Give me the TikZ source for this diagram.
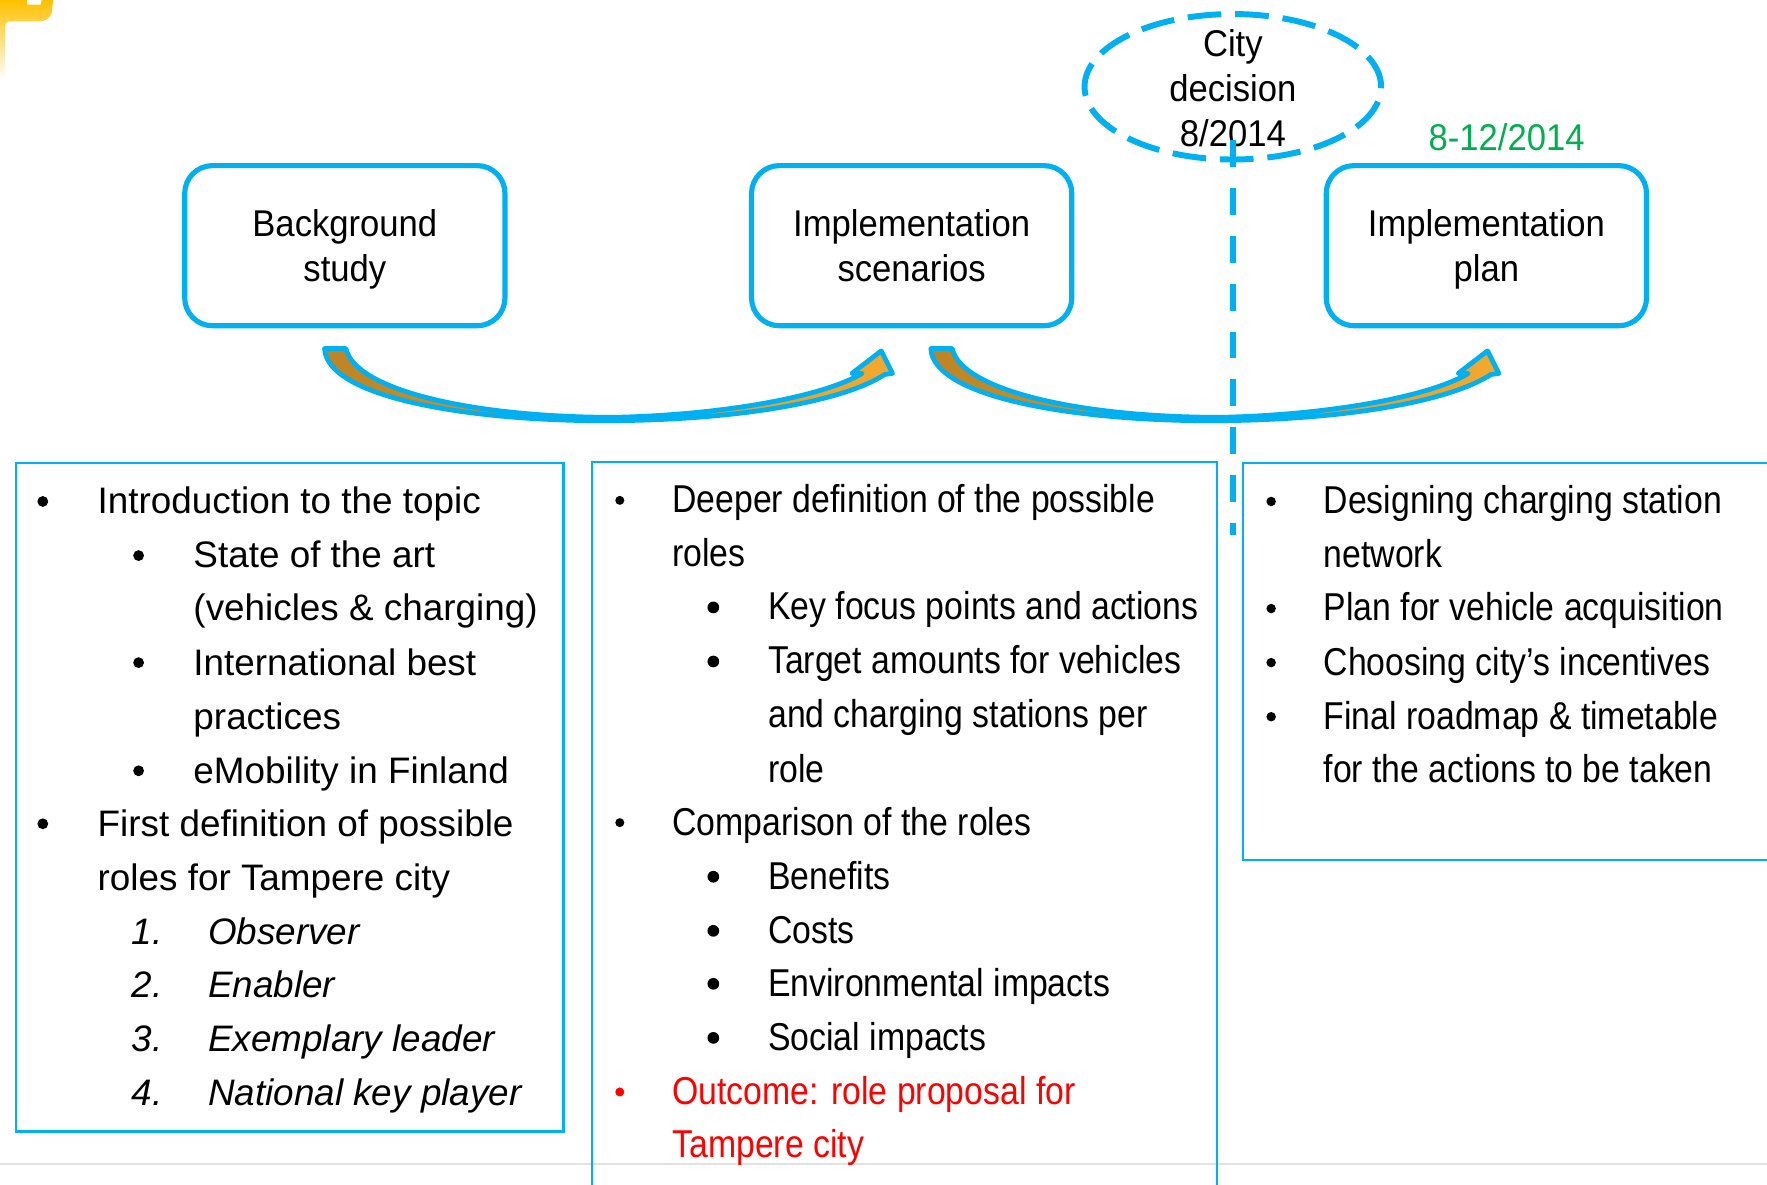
\documentclass[tikz,border=0pt]{standalone}
\usepackage{fontspec}
\setmainfont{Liberation Sans}
\newfontfamily\condfont{Liberation Sans}[FakeStretch=0.87]
\newfontfamily\labfont{Liberation Sans}[FakeStretch=0.93]
\usetikzlibrary{shapes.geometric,calc}
\definecolor{cblue}{HTML}{00B0F0}
\definecolor{cgreen}{HTML}{00B050}
\definecolor{cred}{HTML}{FF0000}
\definecolor{golddark}{HTML}{BE8424}
\definecolor{goldlight}{HTML}{F2A92E}
\definecolor{logoyellow}{HTML}{FFC000}
\definecolor{rulegray}{HTML}{E2E2E2}

\tikzset{
  pics/bendarrow/.style={code={
    \path[draw=cblue, line width=1.2pt, line join=round,
          left color=golddark, right color=goldlight]
      (0,0) .. controls (2,44) and (132,65) .. (257,64)
      .. controls (372,63) and (462,46) .. (497,23)
      -- (504,22) -- (494,2) -- (468,22) -- (477,22)
      .. controls (442,43) and (352,59) .. (257,61)
      .. controls (132,61) and (27,37) .. (19,0) -- cycle;
  }}
}

% first-line strut that lowers a two-line label slightly in its box
\newcommand{\toprule}{\rule{0pt}{10pt}}

\begin{document}
\begin{tikzpicture}[x=0.01cm, y=-0.01cm,
  phasebox/.style={draw=cblue, line width=1.3pt, rounded corners=7pt,
    minimum width=2.84cm, minimum height=1.42cm, align=center, inner sep=0pt,
    font=\labfont\fontsize{9.4pt}{11.4pt}\selectfont},
  decisionshape/.style={ellipse, draw=cblue, line width=1.5pt,
    dash pattern=on 8.5pt off 3.5pt, minimum width=2.63cm,
    minimum height=1.29cm, inner sep=0pt},
  labeltext/.style={align=center, inner sep=0pt,
    font=\labfont\fontsize{9.4pt}{11.4pt}\selectfont},
  dividerline/.style={draw=cblue, line width=1.5pt, dash pattern=on 6.8pt off 5.3pt},
  panel/.style={draw=cblue, line width=0.55pt},
  ltext/.style={anchor=base west, inner sep=0pt,
    font=\fontsize{9.3pt}{13.6pt}\selectfont},
  lnum/.style={anchor=base east, inner sep=0pt,
    font=\fontsize{9.3pt}{13.6pt}\selectfont\itshape},
  litext/.style={anchor=base west, inner sep=0pt,
    font=\fontsize{9.3pt}{13.6pt}\selectfont\itshape},
  ctext/.style={anchor=base west, inner sep=0pt,
    font=\condfont\fontsize{9.8pt}{13.6pt}\selectfont}
]
\useasboundingbox (0,0) rectangle (1568,1051);
\clip (0,0) rectangle (1568,1051);

% footer rule
\draw[rulegray, line width=0.6pt] (0,1033) -- (1568,1033);

% content panels
\draw[panel] (14,411) rectangle (500,1004);
\draw[panel] (525,1070) -- (525,410) -- (1080,410) -- (1080,1070);
\draw[panel] (1600,411) -- (1103,411) -- (1103,763) -- (1600,763);

% left panel
\foreach \y in {445,731} \fill (38,\y) circle (4.8);
\foreach \y in {493,588,684} \fill (123,\y) circle (4.8);
\node[ltext] (a1) at (86,456) {Introduction to the topic};
\node[ltext] (a2) at (171,504) {State of the art};
\node[ltext] (a3) at (171,551) {(vehicles \& charging)};
\node[ltext] (a4) at (171,599) {International best};
\node[ltext] (a5) at (171,647) {practices};
\node[ltext] (a6) at (171,695) {eMobility in Finland};
\node[ltext] (a7) at (86,742) {First definition of possible};
\node[ltext] (a8) at (86,790) {roles for Tampere city};
\node[lnum] (n1) at (145,838) {1.};
\node[lnum] (n2) at (145,885) {2.};
\node[lnum] (n3) at (145,933) {3.};
\node[lnum] (n4) at (145,981) {4.};
\node[litext] (r1) at (184,838) {Observer};
\node[litext] (r2) at (184,885) {Enabler};
\node[litext] (r3) at (184,933) {Exemplary leader};
\node[litext] (r4) at (184,981) {National key player};

% middle panel
\foreach \y in {444,730} \fill (550,\y) circle (4);
\fill[cred] (550,969) circle (4);
\foreach \y in {539,587,778,826,873,921} \fill (633,\y) circle (5.2);
\node[ctext] (b1) at (596,455) {Deeper definition of the possible};
\node[ctext] (b2) at (596,503) {roles};
\node[ctext] (b3) at (681,550) {Key focus points and actions};
\node[ctext] (b4) at (681,598) {Target amounts for vehicles};
\node[ctext] (b5) at (681,646) {and charging stations per};
\node[ctext] (b6) at (681,694) {role};
\node[ctext] (b7) at (596,741) {Comparison of the roles};
\node[ctext] (b8) at (681,789) {Benefits};
\node[ctext] (b9) at (681,837) {Costs};
\node[ctext] (b10) at (681,884) {Environmental impacts};
\node[ctext] (b11) at (681,932) {Social impacts};
\node[ctext, text=cred] (b12) at (596,980) {Outcome: role proposal for};
\node[ctext, text=cred] (b13) at (596,1027) {Tampere city};

% right panel
\foreach \y in {445,540,588,636} \fill (1128,\y) circle (4.2);
\node[ctext] (c1) at (1174,456) {Designing charging station};
\node[ctext] (c2) at (1174,504) {network};
\node[ctext] (c3) at (1174,551) {Plan for vehicle acquisition};
\node[ctext] (c4) at (1174,599) {Choosing city’s incentives};
\node[ctext] (c5) at (1174,647) {Final roadmap \& timetable};
\node[ctext] (c6) at (1174,694) {for the actions to be taken};

% project phases
\node[phasebox] (bg) at (306,218) {\toprule Background\\study\strut};
\node[phasebox] (sc) at (809,218) {\toprule Implementation\\scenarios\strut};
\node[phasebox] (pl) at (1319,218) {\toprule Implementation\\plan\strut};

% decision point
\node[decisionshape] (decision) at (1094,77) {};
\node[labeltext] (decisiontext) at ($(decision.center)+(0,5)$)
  {City\strut\\decision\strut\\8/2014\strut};
\node[labeltext, text=cgreen] (when) at (1337,122) {8-12/2014};
\coordinate (vtop) at (1094,124);
\coordinate (vbot) at (1094,475);
\draw[dividerline] (vtop) -- (vbot);

% transitions between phases
\pic at ($(bg.south)+(-18,18)$) {bendarrow};
\pic at ($(sc.south)+(17,18)$) {bendarrow};

% corner logo
\shade[top color=logoyellow, bottom color=white]
  (0,0) -- (24,0) -- (24,4) -- (36,4) -- (37,0) -- (47,0) -- (46,11)
  .. controls (44,17) and (40,19) .. (34,19) -- (9,19)
  .. controls (6,19) and (4.5,21) .. (4.5,25) -- (4.5,71) -- (0,71) -- cycle;
\end{tikzpicture}
\end{document}
